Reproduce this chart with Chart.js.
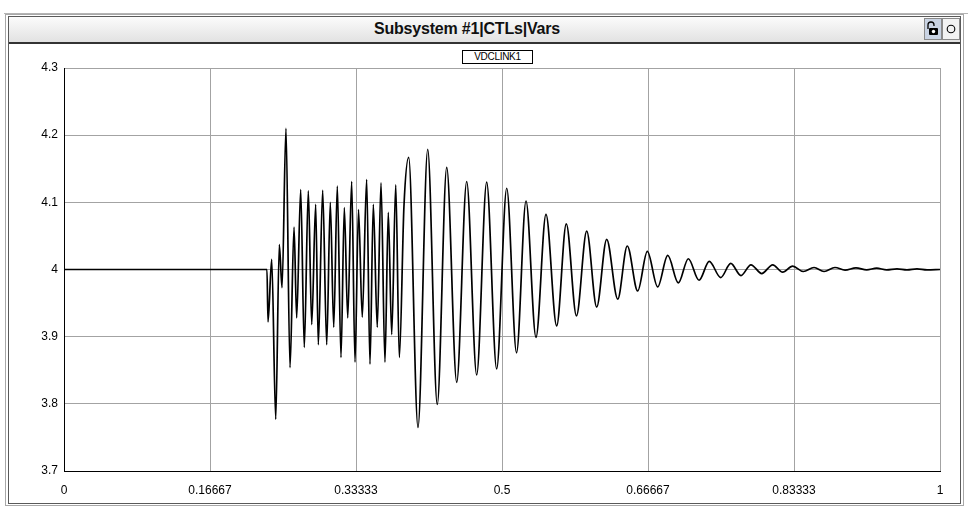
<!DOCTYPE html>
<html>
<head>
<meta charset="utf-8">
<script src="https://cdn.jsdelivr.net/npm/chart.js@4/dist/chart.umd.min.js"></script>
<style>
  html, body { margin: 0; padding: 0; background: #ffffff; }
  body { width: 972px; height: 517px; position: relative; overflow: hidden; font-family: 'Liberation Sans', Arial, sans-serif; }
  .topline { position: absolute; left: 4px; top: 13px; width: 964px; height: 1px; background: #b4b4b4; }
  .frame-outer { position: absolute; left: 5px; top: 14px; width: 959px; height: 492px; border: 1px solid #a8a8a8; box-sizing: border-box; }
  .frame-inner { position: absolute; left: 8px; top: 16px; width: 953px; height: 488px; border: 1px solid #5a5a5a; box-sizing: border-box; }
  .titlebar { position: absolute; left: 9px; top: 17px; width: 951px; height: 25px; background: linear-gradient(#fbfbfb, #e2e2e2); border-bottom: 2px solid #333; }
  .title { position: absolute; left: 0; width: 916px; top: 3px; text-align: center; font-weight: bold; font-size: 16px; color: #111; letter-spacing: -0.2px; }
  .btn { position: absolute; top: 1px; width: 18px; height: 22px; box-sizing: border-box; border: 1px solid #8a8a8a; }
  .btn1 { left: 915px; background: #c9d3e3; }
  .btn2 { left: 933px; background: #f2f2f2; }
  .legend { position: absolute; left: 462px; top: 50px; width: 71px; height: 14px; border: 1px solid #000; box-sizing: border-box; font-size: 10px; line-height: 12px; text-align: center; color: #000; letter-spacing: -0.3px; background: #fff; }
  canvas { position: absolute; left: 0; top: 0; }
</style>
</head>
<body>
<div class="topline"></div>
<div class="frame-outer"></div>
<div class="frame-inner"></div>
<div class="titlebar">
  <div class="title">Subsystem #1|CTLs|Vars</div>
  <div class="btn btn1">
    <svg width="16" height="20" viewBox="0 0 16 20">
      <path d="M3 10 V6 a3 3 0 0 1 6 0 V7" fill="none" stroke="#000" stroke-width="1.3"/>
      <rect x="4" y="9" width="9" height="7" rx="1" fill="#000"/>
      <circle cx="8.5" cy="12.5" r="1.7" fill="#fff"/>
    </svg>
  </div>
  <div class="btn btn2">
    <svg width="16" height="20" viewBox="0 0 16 20">
      <circle cx="8" cy="10" r="3.8" fill="none" stroke="#000" stroke-width="1.1"/>
    </svg>
  </div>
</div>
<div class="legend">VDCLINK1</div>
<canvas id="chart" width="972" height="517"></canvas>
<script>
// VDCLINK1 trace: time (s) and DC link voltage at each turning point of the waveform
const timeSec = [
  0, 0.2317, 0.2329, 0.2371, 0.2417, 0.2458, 0.2489, 0.2534, 0.2580, 0.2626,
  0.2656, 0.2702, 0.2743, 0.2789, 0.2828, 0.2873, 0.2903, 0.2953, 0.2999, 0.3040,
  0.3079, 0.3120, 0.3162, 0.3200, 0.3239, 0.3284, 0.3322, 0.3362, 0.3405, 0.3455,
  0.3493, 0.3531, 0.3576, 0.3619, 0.3664, 0.3702, 0.3741, 0.3787, 0.3828, 0.3881,
  0.3935, 0.4041, 0.4152, 0.4261, 0.4369, 0.4483, 0.4597, 0.4711, 0.4825, 0.4939,
  0.5054, 0.5166, 0.5274, 0.5388, 0.5502, 0.5624, 0.5734, 0.5850, 0.5967, 0.6081,
  0.6195, 0.6321, 0.6430, 0.6549, 0.6659, 0.6777, 0.6892, 0.7013, 0.7127, 0.7249,
  0.7366, 0.7497, 0.7611, 0.7728, 0.7842, 0.7965, 0.8090, 0.8204, 0.8318, 0.8440,
  0.8562, 0.8676, 0.8801, 0.8916, 0.9041, 0.9163, 0.9277, 0.9391, 0.9509, 0.9623,
  0.9737, 0.9852, 1
];
const vdclink1 = [
  4.000, 4.000, 3.922, 4.015, 3.777, 4.037, 3.973, 4.210, 3.854, 4.063,
  3.928, 4.119, 3.884, 4.117, 3.918, 4.097, 3.888, 4.118, 3.888, 4.100,
  3.914, 4.124, 3.869, 4.092, 3.928, 4.131, 3.862, 4.089, 3.929, 4.134,
  3.859, 4.097, 3.914, 4.129, 3.862, 4.085, 3.903, 4.126, 3.869, 4.095,
  4.167, 3.765, 4.179, 3.799, 4.152, 3.832, 4.131, 3.843, 4.130, 3.852,
  4.121, 3.876, 4.102, 3.899, 4.082, 3.916, 4.068, 3.931, 4.057, 3.944,
  4.045, 3.956, 4.035, 3.968, 4.027, 3.974, 4.021, 3.980, 4.016, 3.984,
  4.012, 3.988, 4.009, 3.991, 4.007, 3.994, 4.007, 3.996, 4.005, 3.997,
  4.003, 3.997, 4.003, 3.999, 4.0025, 3.9995, 4.002, 3.9995, 4.001, 3.9995,
  4.001, 3.9995, 4.000
];
const xTickValues = [0, 1 / 6, 2 / 6, 3 / 6, 4 / 6, 5 / 6, 1];
const xTickLabels = ['0', '0.16667', '0.33333', '0.5', '0.66667', '0.83333', '1'];
const yTickValues = [3.7, 3.8, 3.9, 4.0, 4.1, 4.2, 4.3];
const yTickLabels = ['3.7', '3.8', '3.9', '4', '4.1', '4.2', '4.3'];

const points = timeSec.map((t, i) => ({ x: t, y: vdclink1[i] }));
const tickFont = { family: "'Liberation Sans Narrow', 'Liberation Sans', Arial, sans-serif", size: 12 };

new Chart(document.getElementById('chart'), {
  type: 'line',
  data: {
    datasets: [{
      label: 'VDCLINK1',
      data: points,
      borderColor: '#000000',
      borderWidth: 1.7,
      pointRadius: 0,
      fill: false,
      cubicInterpolationMode: 'monotone'
    }]
  },
  options: {
    responsive: false,
    animation: false,
    devicePixelRatio: 1,
    layout: { padding: { left: 0, top: 68, right: 32, bottom: 0 } },
    plugins: { legend: { display: false }, tooltip: { enabled: false } },
    scales: {
      x: {
        type: 'linear',
        min: 0,
        max: 1,
        afterBuildTicks: (scale) => { scale.ticks = xTickValues.map(v => ({ value: v })); },
        afterFit: (scale) => { scale.height = 46; },
        ticks: {
          autoSkip: false,
          maxRotation: 0,
          padding: 12,
          color: '#000',
          font: tickFont,
          callback: (v, i) => xTickLabels[i]
        },
        grid: { color: '#a3a3a3', lineWidth: 1, drawTicks: false },
        border: { display: true, color: '#000', width: 1 }
      },
      y: {
        min: 3.7,
        max: 4.3,
        afterBuildTicks: (scale) => { scale.ticks = yTickValues.map(v => ({ value: v })); },
        afterFit: (scale) => { scale.width = 64; },
        ticks: {
          autoSkip: false,
          padding: 6,
          color: '#000',
          font: tickFont,
          callback: (v, i) => yTickLabels[i]
        },
        grid: { color: '#a3a3a3', lineWidth: 1, drawTicks: false },
        border: { display: true, color: '#000', width: 1 }
      }
    }
  }
});
</script>
</body>
</html>
